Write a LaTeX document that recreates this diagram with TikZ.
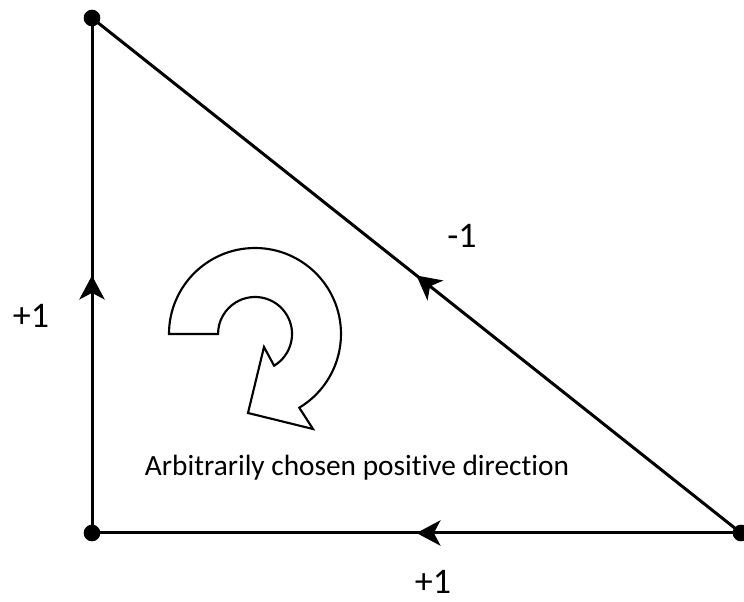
\documentclass[tikz,border=0pt]{standalone}
\usepackage{fontspec}
\setmainfont{Carlito}[RawFeature={-liga}]
\usetikzlibrary{arrows.meta,decorations.markings}
\begin{document}
\begin{tikzpicture}[x=0.75pt,y=0.75pt,
  edge/.style={line width=2.25pt},
  vdot/.style={circle,fill=black,inner sep=0pt,minimum size=12.5pt},
  midarrow/.style={postaction={decorate},decoration={markings,mark=at position #1 with {\arrow{Stealth[length=18pt,width=19pt,inset=5pt]}}}},
  lbl/.style={font=\fontsize{27}{32}\selectfont,inner sep=0pt},
  txt/.style={font=\fontsize{22}{26}\selectfont,inner sep=0pt},
  turn/.style={line width=1.6pt,fill=white,line join=miter},
]
\useasboundingbox (0,0) rectangle (744,-602);
\node[vdot] (A) at (92,-18) {};
\node[vdot] (B) at (92,-533) {};
\node[vdot] (C) at (741,-533) {};
\draw[edge,midarrow=0.50] (B.center) -- (A.center);
\draw[edge,midarrow=0.50] (C.center) -- (B.center);
\draw[edge,midarrow=0.50] (C.center) -- (A.center);
\draw[turn] (169,-334) arc[start angle=180,end angle=-59,radius=86]
  -- (313,-429) -- (248,-413) -- (264,-347) -- (274.1,-365.7)
  arc[start angle=-59,end angle=180,radius=37] -- cycle;
\node[lbl] (lm) at (462,-236) {-1};
\node[lbl] (ll) at (31,-316) {+1};
\node[lbl] (lb) at (433,-582) {+1};
\node[txt] (t) at (357,-468) {Arbitrarily chosen positive direction};
\end{tikzpicture}
\end{document}
